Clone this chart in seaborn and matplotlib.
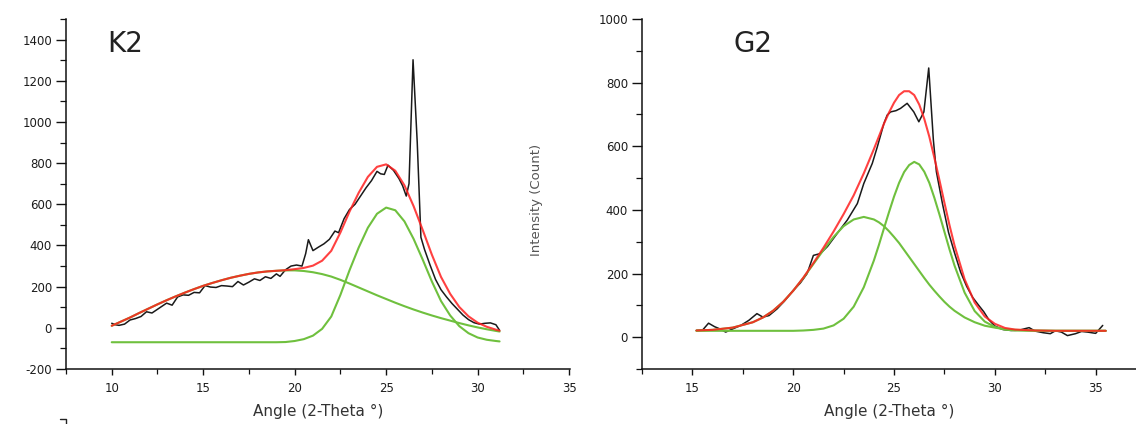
import matplotlib
matplotlib.use("Agg")
import matplotlib.pyplot as plt
import seaborn as sns
from matplotlib.ticker import MultipleLocator
from matplotlib.lines import Line2D

# ---------------- K2 sample ----------------
k2_angle = [10.0, 10.2, 10.4, 10.7, 11.0, 11.3, 11.6, 11.9, 12.2, 12.5, 12.8, 13.0, 13.3,
            13.6, 13.9, 14.2, 14.5, 14.8, 15.1, 15.4, 15.7, 16.0, 16.3, 16.6, 16.9, 17.2,
            17.5, 17.8, 18.1, 18.4, 18.7, 19.0, 19.2, 19.5, 19.8, 20.1, 20.4, 20.6, 20.75,
            21.0, 21.3, 21.6, 21.9, 22.2, 22.4, 22.7, 23.0, 23.3, 23.6, 23.9, 24.2, 24.5,
            24.7, 24.9, 25.1, 25.4, 25.7, 25.9, 26.1, 26.25, 26.47, 26.7, 26.9, 27.1, 27.4,
            27.7, 28.0, 28.3, 28.6, 28.9, 29.2, 29.5, 29.8, 30.1, 30.4, 30.7, 31.0, 31.2]
k2_counts = [22, 15, 12, 18, 38, 45, 55, 78, 72, 90, 108, 120, 110,
             150, 160, 158, 172, 170, 205, 198, 196, 205, 203, 200, 225, 208,
             222, 238, 230, 248, 240, 262, 250, 282, 300, 305, 300, 360, 428,
             375, 392, 408, 430, 470, 462, 530, 575, 600, 640, 680, 715, 760,
             748, 745, 790, 765, 725, 690, 640, 700, 1302, 900, 440, 380, 305,
             235, 185, 150, 118, 90, 62, 40, 25, 18, 22, 24, 15, -12]

k2_fit_angle = [10.0, 10.5, 11.0, 11.5, 12.0, 12.5, 13.0, 13.5, 14.0, 14.5, 15.0, 15.5,
                16.0, 16.5, 17.0, 17.5, 18.0, 18.5, 19.0, 19.5, 20.0, 20.5, 21.0, 21.5,
                22.0, 22.5, 23.0, 23.5, 24.0, 24.5, 25.0, 25.5, 26.0, 26.5, 27.0, 27.5,
                28.0, 28.5, 29.0, 29.5, 30.0, 30.5, 31.0, 31.2]
k2_peak_broad = [10, 30, 50, 72, 93, 114, 134, 153, 171, 188, 204, 218,
                 231, 243, 253, 262, 269, 274, 277, 279, 279, 276, 270, 261,
                 249, 233, 215, 196, 177, 158, 140, 122, 105, 89, 74, 60,
                 47, 35, 23, 12, 2, -7, -15, -18]
k2_peak_narrow = [-70, -70, -70, -70, -70, -70, -70, -70, -70, -70, -70, -70,
                  -70, -70, -70, -70, -70, -70, -70, -69, -64, -55, -38, -5,
                  55, 160, 280, 390, 486, 554, 584, 571, 517, 432, 331, 225,
                  130, 60, 8, -26, -47, -58, -64, -66]
k2_fit_total = [10, 30, 50, 72, 93, 114, 134, 153, 171, 188, 204, 218,
                231, 243, 253, 262, 269, 274, 277, 280, 285, 291, 302, 326,
                374, 463, 565, 656, 733, 782, 794, 763, 692, 591, 475, 355,
                247, 165, 101, 56, 25, 5, -9, -14]

# ---------------- G2 sample ----------------
g2_angle = [15.2, 15.5, 15.8, 16.1, 16.4, 16.65, 17.0, 17.4, 17.8, 18.2, 18.5, 18.8,
            19.2, 19.6, 20.0, 20.35, 20.69, 21.0, 21.35, 21.7, 22.18, 22.68, 23.18,
            23.5, 23.92, 24.17, 24.5, 24.66, 24.83, 25.1, 25.32, 25.65, 25.98, 26.23,
            26.48, 26.72, 26.95, 27.1, 27.4, 27.7, 28.0, 28.3, 28.6, 28.9, 29.2, 29.45,
            29.7, 30.0, 30.4, 30.8, 31.2, 31.7, 32.0, 32.4, 32.75, 33.0, 33.3, 33.6,
            34.0, 34.3, 34.6, 35.0, 35.35]
g2_counts = [21, 22, 44, 33, 25, 16, 26, 37, 53, 74, 63, 68,
             89, 116, 147, 170, 200, 257, 263, 285, 326, 368, 420,
             483, 546, 598, 672, 698, 708, 712, 719, 735, 708, 677,
             708, 846, 620, 520, 420, 330, 265, 205, 160, 125, 100, 80,
             55, 35, 24, 21, 22, 30, 19, 14, 11, 20, 16, 5,
             11, 18, 16, 12, 37]

g2_fit_angle = [15.2, 16.0, 17.0, 18.0, 18.5, 19.0, 19.5, 20.0, 20.5, 21.0, 21.5, 22.0,
                22.5, 23.0, 23.5, 24.0, 24.25, 24.5, 24.75, 25.0, 25.25, 25.5, 25.75,
                26.0, 26.25, 26.5, 26.75, 27.0, 27.25, 27.5, 27.75, 28.0, 28.5, 29.0,
                29.5, 30.0, 30.5, 31.0, 32.0, 33.0, 34.0, 35.5]
g2_peak_broad = [21, 23, 30, 47, 62, 83, 111, 146, 186, 230, 274, 315,
                 349, 370, 378, 370, 361, 349, 333, 315, 296, 274, 252,
                 230, 208, 186, 165, 146, 128, 111, 96, 83, 62, 47,
                 36, 30, 25, 23, 21, 20, 20, 20]
g2_peak_narrow = [20, 20, 20, 20, 20, 20, 20, 20, 21, 23, 27, 37,
                  58, 96, 157, 241, 290, 342, 393, 442, 485, 519, 541,
                  551, 543, 520, 485, 438, 386, 331, 276, 225, 140, 82,
                  49, 32, 24, 21, 20, 20, 20, 20]
g2_fit_total = [21, 23, 30, 47, 62, 83, 111, 146, 187, 233, 281, 332,
                387, 446, 515, 591, 631, 671, 706, 737, 761, 773, 773,
                761, 731, 686, 630, 564, 494, 422, 352, 288, 182, 109,
                65, 42, 29, 24, 21, 20, 20, 20]

COL_DATA = "#1a1a1a"
COL_FIT = "#ff2020"
COL_PEAK = "#6fc03e"
COL_AXIS = "#111111"

sns.set_theme(style="ticks")
plt.rcParams["font.family"] = ["DejaVu Sans"]
plt.rcParams["axes.unicode_minus"] = False

fig = plt.figure(figsize=(11.36, 4.24), dpi=100)
W, H = 1136.0, 424.0
ax1 = fig.add_axes([66 / W, 55 / H, 504 / W, 350 / H])
ax2 = fig.add_axes([642 / W, 55 / H, 494 / W, 350 / H])


def draw_panel(ax, angle, counts, fit_angle, broad, narrow, total):
    sns.lineplot(x=angle, y=counts, ax=ax, color=COL_DATA, lw=1.1,
                 sort=False, estimator=None)
    sns.lineplot(x=fit_angle, y=broad, ax=ax, color=COL_PEAK, lw=1.5,
                 sort=False, estimator=None)
    sns.lineplot(x=fit_angle, y=narrow, ax=ax, color=COL_PEAK, lw=1.5,
                 sort=False, estimator=None)
    sns.lineplot(x=fit_angle, y=total, ax=ax, color=COL_FIT, lw=1.5, alpha=0.85,
                 sort=False, estimator=None)


def style_axes(ax):
    for side in ("top", "right"):
        ax.spines[side].set_visible(False)
    for side in ("left", "bottom"):
        ax.spines[side].set_color(COL_AXIS)
        ax.spines[side].set_linewidth(1.1)
    ax.tick_params(axis="y", which="major", direction="out", length=7, width=1.0,
                   color=COL_AXIS, labelsize=8.5, labelcolor="#1c1c1c", pad=3)
    ax.tick_params(axis="y", which="minor", direction="out", length=4.5, width=0.9,
                   color=COL_AXIS)
    ax.tick_params(axis="x", which="major", direction="out", length=4.5, width=1.0,
                   color=COL_AXIS, labelsize=8.5, labelcolor="#1c1c1c", pad=5)
    ax.tick_params(axis="x", which="minor", direction="out", length=3.5, width=0.9,
                   color=COL_AXIS)
    ax.xaxis.set_minor_locator(MultipleLocator(2.5))
    ax.yaxis.set_minor_locator(MultipleLocator(100))
    ax.grid(False)


draw_panel(ax1, k2_angle, k2_counts, k2_fit_angle, k2_peak_broad, k2_peak_narrow, k2_fit_total)
draw_panel(ax2, g2_angle, g2_counts, g2_fit_angle, g2_peak_broad, g2_peak_narrow, g2_fit_total)

style_axes(ax1)
style_axes(ax2)

ax1.set_xlim(7.5, 35.05)
ax1.set_ylim(-200, 1500)
ax1.set_xticks([10, 15, 20, 25, 30, 35])
ax1.set_yticks([-200, 0, 200, 400, 600, 800, 1000, 1200, 1400])

ax2.set_xlim(12.5, 37.0)
ax2.set_ylim(-100, 1000)
ax2.set_xticks([15, 20, 25, 30, 35])
ax2.set_yticks([0, 200, 400, 600, 800, 1000])

for ax in (ax1, ax2):
    ax.set_xlabel("Angle (2-Theta °)", fontsize=11, color="#333333")
    ax.xaxis.set_label_coords(0.5, -0.1)

ax1.set_ylabel("")
ax2.set_ylabel("Intensity (Count)", fontsize=9.5, color="#555555")
ax2.yaxis.set_label_coords(-0.2, 0.483)

ax1.text(0.081, 0.93, "K2", transform=ax1.transAxes, fontsize=20,
         color="#222222", va="center", ha="left")
ax2.text(0.186, 0.93, "G2", transform=ax2.transAxes, fontsize=20,
         color="#222222", va="center", ha="left")

# top of the y axis of the panel below
fig.add_artist(Line2D([60 / W, 66 / W, 66 / W], [(H - 419) / H, (H - 419) / H, 0.0],
                      transform=fig.transFigure, color="#222222", lw=1.0))

fig.savefig("out.png", dpi=100)
